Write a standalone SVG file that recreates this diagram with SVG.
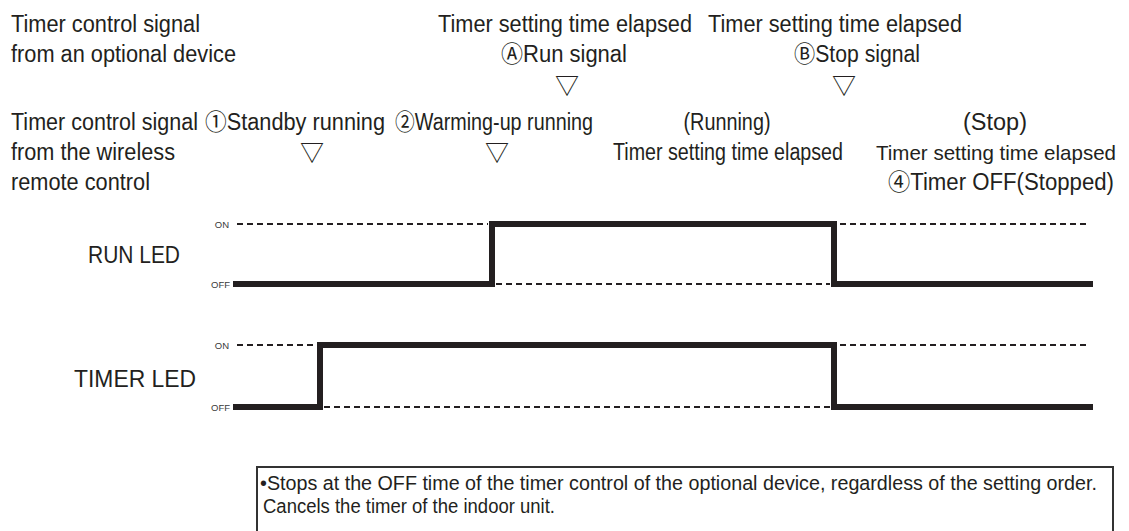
<svg xmlns="http://www.w3.org/2000/svg" width="1129" height="531" viewBox="0 0 1129 531">
<style>
.t{font-family:"Liberation Sans","Noto Sans CJK JP",sans-serif;font-size:23px;fill:#231f20}
.m{text-anchor:middle}
.tri{font-family:"Noto Sans CJK JP","DejaVu Sans",sans-serif;font-size:24px;fill:#231f20;text-anchor:middle}
.s{font-family:"Liberation Sans",sans-serif;font-size:9.5px;fill:#3a3a3a;text-anchor:end}
.b{font-family:"Liberation Sans",sans-serif;font-size:20px;fill:#231f20}
.thick{fill:none;stroke:#231f20;stroke-width:6;stroke-linejoin:miter}
.dash{fill:none;stroke:#231f20;stroke-width:2;stroke-dasharray:6 4}
</style>
<rect width="1129" height="531" fill="#fff"/>
<g id="labels-left">
<text class="t" x="11" y="32" textLength="189" lengthAdjust="spacingAndGlyphs">Timer control signal</text>
<text class="t" x="11" y="62" textLength="225" lengthAdjust="spacingAndGlyphs">from an optional device</text>
<text class="t" x="11" y="130" textLength="187" lengthAdjust="spacingAndGlyphs">Timer control signal</text>
<text class="t" x="11" y="160" textLength="164" lengthAdjust="spacingAndGlyphs">from the wireless</text>
<text class="t" x="11" y="190" textLength="139" lengthAdjust="spacingAndGlyphs">remote control</text>
</g>
<g id="signal-A">
<text class="t m" x="565" y="32" textLength="254" lengthAdjust="spacingAndGlyphs">Timer setting time elapsed</text>
<text class="t m" x="564" y="62" textLength="126" lengthAdjust="spacingAndGlyphs">ⒶRun signal</text>
<text class="tri" x="567" y="94">▽</text>
</g>
<g id="signal-B">
<text class="t m" x="835" y="32" textLength="254" lengthAdjust="spacingAndGlyphs">Timer setting time elapsed</text>
<text class="t m" x="857" y="62" textLength="126" lengthAdjust="spacingAndGlyphs">ⒷStop signal</text>
<text class="tri" x="844" y="94">▽</text>
</g>
<g id="standby">
<text class="t" x="205" y="130" textLength="180" lengthAdjust="spacingAndGlyphs">①Standby running</text>
<text class="tri" x="312" y="161">▽</text>
</g>
<g id="warmup">
<text class="t" x="395" y="130" textLength="198" lengthAdjust="spacingAndGlyphs">②Warming-up running</text>
<text class="tri" x="497" y="161">▽</text>
</g>
<g id="running">
<text class="t m" x="727" y="130" textLength="87" lengthAdjust="spacingAndGlyphs">(Running)</text>
<text class="t m" x="728" y="160" textLength="230" lengthAdjust="spacingAndGlyphs">Timer setting time elapsed</text>
</g>
<g id="stop">
<text class="t m" x="995" y="130" textLength="64" lengthAdjust="spacingAndGlyphs">(Stop)</text>
<text class="t m" x="996" y="160" style="font-size:21px" textLength="240" lengthAdjust="spacingAndGlyphs">Timer setting time elapsed</text>
<text class="t m" x="1001" y="190" textLength="226" lengthAdjust="spacingAndGlyphs">④Timer OFF(Stopped)</text>
</g>
<g id="run-led">
<text class="t" x="88" y="263" textLength="92" lengthAdjust="spacingAndGlyphs">RUN LED</text>
<text class="s" x="229" y="227.5">ON</text>
<text class="s" x="230" y="287.5">OFF</text>
</g>
<g id="timer-led">
<text class="t" x="74" y="387" textLength="122" lengthAdjust="spacingAndGlyphs">TIMER LED</text>
<text class="s" x="229" y="348.5">ON</text>
<text class="s" x="230" y="410.5">OFF</text>
</g>
<g id="connectors">
<path class="dash" d="M237,224H488M840,224H1087M496,284H830"/>
<path class="thick" d="M233,284H492V224H834V284H1093"/>
<path class="dash" d="M237,345H316M840,345H1087M324,407H830"/>
<path class="thick" d="M233,407H320V345H834V407H1093"/>
</g>
<g id="note">
<rect x="257" y="467" width="856" height="80" fill="none" stroke="#333" stroke-width="2"/>
<text class="b" x="260" y="490" textLength="837" lengthAdjust="spacingAndGlyphs">•Stops at the OFF time of the timer control of the optional device, regardless of the setting order.</text>
<text class="b" x="263" y="513" textLength="292" lengthAdjust="spacingAndGlyphs">Cancels the timer of the indoor unit.</text>
</g>
</svg>
